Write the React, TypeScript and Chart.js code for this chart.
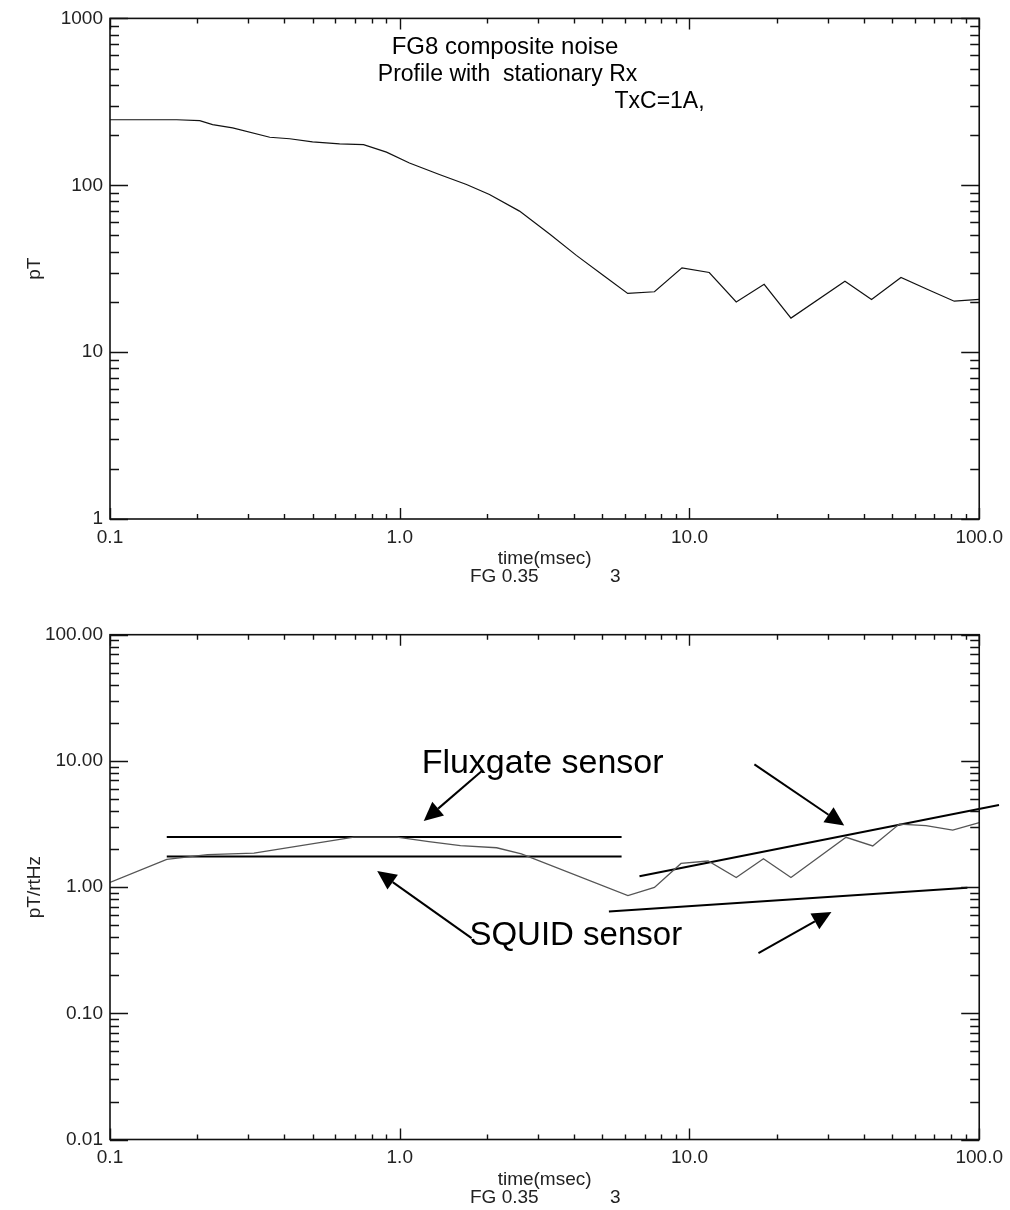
import React, { useEffect, useRef } from "react";
import { Chart, registerables } from "chart.js";

Chart.register(...registerables);

// ---------------- Top panel: FG8 composite noise profile ----------------
const topTimes = [0.1, 0.17, 0.204, 0.226, 0.265, 0.356, 0.417, 0.5, 0.62, 0.75, 0.9, 1.08, 1.37, 1.7, 2.04, 2.59, 3.29, 4.07, 5.02, 6.12, 7.57, 9.42, 11.7, 14.5, 18.1, 22.4, 34.4, 42.5, 53.7, 67.3, 82, 100];
const topNoise = [247, 247, 244, 231, 221, 194, 190, 182, 177, 175, 158, 136, 116, 101, 88, 70, 51, 38, 29, 22.5, 23, 32, 30, 20, 25.5, 16, 26.6, 20.7, 28, 23.5, 20.2, 20.7];

// ---------------- Bottom panel: pT/rtHz ----------------
const botTimes = [0.1, 0.157, 0.217, 0.314, 0.695, 0.978, 1.26, 1.62, 2.16, 2.63, 6.13, 7.57, 9.35, 11.6, 14.5, 18.0, 22.4, 34.7, 42.9, 53, 65.5, 81, 100];
const botNoise = [1.09, 1.66, 1.81, 1.86, 2.49, 2.49, 2.29, 2.13, 2.05, 1.83, 0.855, 0.995, 1.54, 1.61, 1.19, 1.68, 1.19, 2.48, 2.12, 3.16, 3.07, 2.83, 3.24];

// reference lines (sensor noise levels)
const fgFlatX = [0.157, 5.83];
const fgFlatY = [2.5, 2.5];
const sqFlatX = [0.157, 5.83];
const sqFlatY = [1.75, 1.75];
const fgSlopeX = [6.72, 117];
const fgSlopeY = [1.22, 4.47];
const sqSlopeX = [5.27, 91];
const sqSlopeY = [0.64, 0.99];

// arrows (tail -> tip), data units
const arrowTailX = [1.92, 1.77, 16.75, 17.3];
const arrowTailY = [8.3, 0.394, 9.38, 0.3];
const arrowTipX = [1.21, 0.836, 34.2, 30.9];
const arrowTipY = [3.34, 1.34, 3.08, 0.635];

// ticks
const xMajorValues = [0.1, 1, 10, 100];
const xMajorLabels = ["0.1", "1.0", "10.0", "100.0"];
const topYMajorValues = [1, 10, 100, 1000];
const topYMajorLabels = ["1", "10", "100", "1000"];
const botYMajorValues = [0.01, 0.1, 1, 10, 100];
const botYMajorLabels = ["0.01", "0.10", "1.00", "10.00", "100.00"];

const TICK_FONT = { family: "'Liberation Sans', Arial, sans-serif", size: 19 };
const TEXT_FAMILY = "'Liberation Sans', Arial, sans-serif";

function logTicks(majors: number[]) {
  const out: { value: number; major: boolean }[] = [];
  majors.forEach((m, i) => {
    out.push({ value: m, major: true });
    if (i < majors.length - 1) {
      for (let k = 2; k <= 9; k++) out.push({ value: +(m * k).toPrecision(6), major: false });
    }
  });
  return out;
}

function labelFor(values: number[], labels: string[]) {
  return (v: number) => {
    const i = values.findIndex((m) => Math.abs(m - v) / m < 1e-6);
    return i >= 0 ? labels[i] : "";
  };
}

function drawArrow(ctx: CanvasRenderingContext2D, x1: number, y1: number, x2: number, y2: number) {
  const ang = Math.atan2(y2 - y1, x2 - x1);
  const L = 19;
  const W = 9;
  const bx = x2 - L * Math.cos(ang);
  const by = y2 - L * Math.sin(ang);
  ctx.beginPath();
  ctx.moveTo(x1, y1);
  ctx.lineTo(bx, by);
  ctx.lineWidth = 2;
  ctx.stroke();
  ctx.beginPath();
  ctx.moveTo(x2, y2);
  ctx.lineTo(bx + W * Math.sin(ang), by - W * Math.cos(ang));
  ctx.lineTo(bx - W * Math.sin(ang), by + W * Math.cos(ang));
  ctx.closePath();
  ctx.fill();
}

const idlPlugin = {
  id: "idl",
  afterDatasetsDraw(chart: any, _args: any, opts: any) {
    const { ctx, chartArea: a, scales } = chart;
    const xs = scales.x;
    const ys = scales.y;
    ctx.save();
    ctx.strokeStyle = "#111";
    ctx.fillStyle = "#000";
    ctx.lineWidth = 1.6;
    ctx.strokeRect(a.left, a.top, a.right - a.left, a.bottom - a.top);
    ctx.lineWidth = 1.4;
    ctx.beginPath();
    for (const t of xs.ticks) {
      const px = Math.round(xs.getPixelForValue(t.value)) + 0.5;
      const len = t.major ? 11 : 5;
      ctx.moveTo(px, a.bottom);
      ctx.lineTo(px, a.bottom - len);
      ctx.moveTo(px, a.top);
      ctx.lineTo(px, a.top + len);
    }
    for (const t of ys.ticks) {
      const py = Math.round(ys.getPixelForValue(t.value)) + 0.5;
      const len = t.major ? 18 : 9;
      ctx.moveTo(a.left, py);
      ctx.lineTo(a.left + len, py);
      ctx.moveTo(a.right, py);
      ctx.lineTo(a.right - len, py);
    }
    ctx.stroke();

    // arrows
    ctx.strokeStyle = "#000";
    (opts.arrows || []).forEach((ar: any) => {
      drawArrow(ctx, xs.getPixelForValue(ar.x1), ys.getPixelForValue(ar.y1), xs.getPixelForValue(ar.x2), ys.getPixelForValue(ar.y2));
    });

    // annotation texts (data anchored)
    ctx.fillStyle = "#000";
    ctx.textBaseline = "alphabetic";
    ctx.textAlign = "left";
    (opts.notes || []).forEach((n: any) => {
      ctx.font = `${n.size}px ${TEXT_FAMILY}`;
      ctx.fillText(n.text, xs.getPixelForValue(n.x), ys.getPixelForValue(n.y));
    });

    // axis titles
    ctx.fillStyle = "#222";
    ctx.font = `19px ${TEXT_FAMILY}`;
    ctx.textBaseline = "middle";
    ctx.textAlign = "center";
    ctx.fillText("time(msec)", (a.left + a.right) / 2, a.bottom + 40);
    ctx.textAlign = "left";
    ctx.fillText("FG 0.35", 470, a.bottom + 58);
    ctx.fillText("3", 610, a.bottom + 58);
    ctx.save();
    ctx.translate(35, (a.top + a.bottom) / 2);
    ctx.rotate(-Math.PI / 2);
    ctx.textAlign = "center";
    ctx.fillText(opts.yTitle, 0, 0);
    ctx.restore();
    ctx.restore();
  },
};

function makeConfig(p: {
  datasets: any[];
  yMin: number;
  yMax: number;
  yMajors: number[];
  yLabels: string[];
  padTop: number;
  xHeight: number;
  yTitle: string;
  notes: any[];
  arrows: any[];
}) {
  const xTicks = logTicks(xMajorValues);
  const yTicks = logTicks(p.yMajors);
  const xLab = labelFor(xMajorValues, xMajorLabels);
  const yLab = labelFor(p.yMajors, p.yLabels);
  return {
    type: "line",
    data: { datasets: p.datasets },
    options: {
      responsive: false,
      animation: false,
      devicePixelRatio: 1,
      layout: { padding: { top: p.padTop, right: 30, left: 0, bottom: 0 } },
      plugins: {
        legend: { display: false },
        tooltip: { enabled: false },
        idl: { yTitle: p.yTitle, notes: p.notes, arrows: p.arrows },
      },
      scales: {
        x: {
          type: "logarithmic",
          min: 0.1,
          max: 100,
          grid: { display: false, drawTicks: false },
          border: { display: false },
          ticks: { autoSkip: false, maxRotation: 0, padding: 7, color: "#222", font: TICK_FONT, callback: (v: number) => xLab(v) },
          afterBuildTicks: (s: any) => {
            s.ticks = xTicks.map((t) => ({ ...t }));
          },
          afterFit: (s: any) => {
            s.height = p.xHeight;
          },
        },
        y: {
          type: "logarithmic",
          min: p.yMin,
          max: p.yMax,
          grid: { display: false, drawTicks: false },
          border: { display: false },
          ticks: { autoSkip: false, padding: 7, color: "#222", font: TICK_FONT, callback: (v: number) => yLab(v) },
          afterBuildTicks: (s: any) => {
            s.ticks = yTicks.map((t) => ({ ...t }));
          },
          afterFit: (s: any) => {
            s.width = 110;
          },
        },
      },
    },
    plugins: [idlPlugin],
  };
}

const pts = (xs: number[], ys: number[]) => xs.map((x, i) => ({ x, y: ys[i] }));

function ChartCanvas({ config, top }: { config: () => any; top: number }) {
  const ref = useRef<HTMLCanvasElement>(null);
  useEffect(() => {
    if (!ref.current) return;
    const chart = new Chart(ref.current, config());
    return () => chart.destroy();
  }, []);
  return (
    <canvas
      ref={ref}
      width={1010}
      height={605}
      style={{ position: "absolute", left: 0, top, width: 1010, height: 605 }}
    />
  );
}

const topConfig = () =>
  makeConfig({
    datasets: [
      { data: pts(topTimes, topNoise), borderColor: "#111", borderWidth: 1.2, pointRadius: 0, tension: 0 },
    ],
    yMin: 1,
    yMax: 1000,
    yMajors: topYMajorValues,
    yLabels: topYMajorLabels,
    padTop: 14.7,
    xHeight: 86,
    yTitle: "pT",
    notes: [
      { text: "FG8 composite noise", x: 0.938, y: 610, size: 24 },
      { text: "Profile with  stationary Rx", x: 0.84, y: 420, size: 23 },
      { text: "TxC=1A,", x: 5.51, y: 292, size: 23 },
    ],
    arrows: [],
  });

const lineStyle = { borderColor: "#000", borderWidth: 2, pointRadius: 0, tension: 0, clip: false };

const botConfig = () =>
  makeConfig({
    datasets: [
      { data: pts(botTimes, botNoise), borderColor: "#555", borderWidth: 1.3, pointRadius: 0, tension: 0 },
      { data: pts(fgFlatX, fgFlatY), ...lineStyle },
      { data: pts(sqFlatX, sqFlatY), ...lineStyle },
      { data: pts(fgSlopeX, fgSlopeY), ...lineStyle },
      { data: pts(sqSlopeX, sqSlopeY), ...lineStyle },
    ],
    yMin: 0.01,
    yMax: 100,
    yMajors: botYMajorValues,
    yLabels: botYMajorLabels,
    padTop: 29.7,
    xHeight: 70.5,
    yTitle: "pT/rtHz",
    notes: [
      { text: "Fluxgate sensor", x: 1.19, y: 8.02, size: 34 },
      { text: "SQUID sensor", x: 1.74, y: 0.348, size: 33 },
    ],
    arrows: arrowTailX.map((x1, i) => ({ x1, y1: arrowTailY[i], x2: arrowTipX[i], y2: arrowTipY[i] })),
  });

export default function App() {
  return (
    <div style={{ position: "absolute", left: 0, top: 0, width: 1010, height: 1210, background: "#fff", overflow: "hidden" }}>
      <ChartCanvas config={topConfig} top={0} />
      <ChartCanvas config={botConfig} top={605} />
    </div>
  );
}
